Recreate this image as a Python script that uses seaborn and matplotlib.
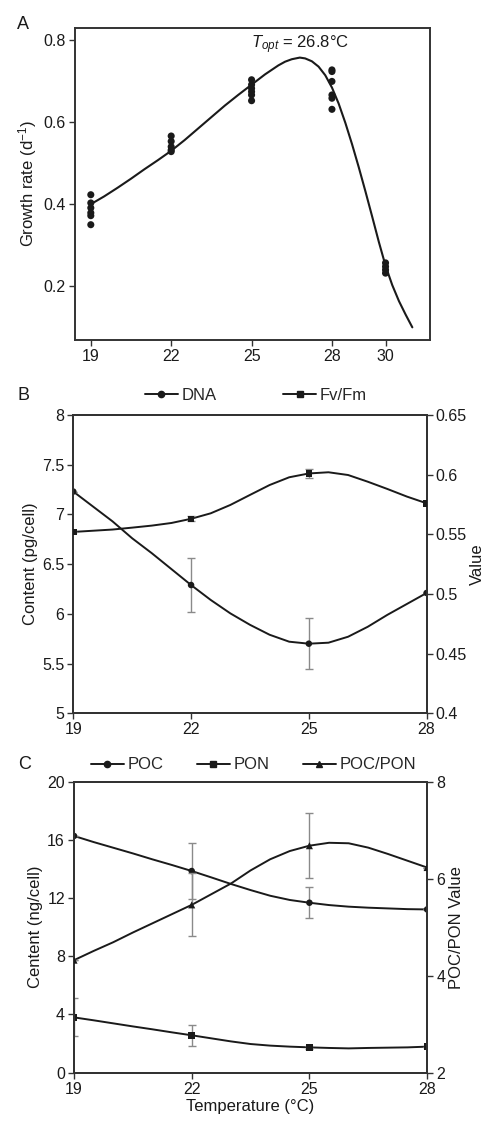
import matplotlib

matplotlib.use("Agg")

import matplotlib.pyplot as plt
import pandas as pd
import seaborn as sns
from matplotlib.lines import Line2D

# ---- panel A: growth rate vs temperature ----
growth_temp = [19] * 6 + [22] * 5 + [25] * 6 + [28] * 6 + [30] * 4
growth_rate = [0.423, 0.403, 0.391, 0.379, 0.372, 0.350,
               0.566, 0.553, 0.540, 0.532, 0.528,
               0.703, 0.691, 0.682, 0.674, 0.666, 0.652,
               0.727, 0.723, 0.699, 0.666, 0.658, 0.631,
               0.257, 0.248, 0.240, 0.232]
fit_temp = [19, 19.5, 20, 20.5, 21, 21.5, 22, 22.5, 23, 23.5, 24, 24.5, 25,
            25.5, 26, 26.25, 26.5, 26.8, 27, 27.25, 27.5, 27.75, 28, 28.25,
            28.5, 28.75, 29, 29.25, 29.5, 29.75, 30, 30.25, 30.5, 30.75, 31]
fit_rate = [0.400, 0.419, 0.440, 0.462, 0.485, 0.507, 0.530, 0.556, 0.584,
            0.612, 0.640, 0.666, 0.691, 0.716, 0.738, 0.747, 0.753, 0.757,
            0.755, 0.748, 0.735, 0.714, 0.684, 0.645, 0.598, 0.546, 0.490,
            0.431, 0.370, 0.308, 0.250, 0.203, 0.164, 0.131, 0.100]
growth_xticks = [19, 22, 25, 28, 30]

# ---- panel B: DNA content and Fv/Fm ----
temps = [19, 22, 25, 28]
dna = [7.23, 6.29, 5.70, 6.21]
dna_err = [0.0, 0.27, 0.255, 0.0]
fvfm = [0.552, 0.563, 0.601, 0.576]
fvfm_err = [0.0, 0.002, 0.004, 0.0]
curve_temp = [19, 19.5, 20, 20.5, 21, 21.5, 22, 22.5, 23, 23.5,
              24, 24.5, 25, 25.5, 26, 26.5, 27, 27.5, 28]
dna_curve = [7.23, 7.08, 6.93, 6.76, 6.61, 6.45, 6.29, 6.14, 6.005, 5.89,
             5.79, 5.72, 5.70, 5.71, 5.77, 5.87, 5.99, 6.10, 6.21]
fvfm_curve = [0.552, 0.553, 0.554, 0.5556, 0.5573, 0.5595, 0.563, 0.5676, 0.5746, 0.583,
              0.5913, 0.5978, 0.601, 0.602, 0.5997, 0.5941, 0.588, 0.5816, 0.576]

# ---- panel C: POC, PON, POC/PON ----
poc = [16.27, 13.86, 11.68, 11.22]
poc_err = [0.0, 1.95, 1.08, 0.0]
pon = [3.80, 2.57, 1.74, 1.79]
pon_err = [1.3, 0.71, 0.1, 0.0]
ratio = [4.32, 5.46, 6.68, 6.23]
ratio_err = [0.0, 0.65, 0.67, 0.0]
poc_curve = [16.27, 15.85, 15.46, 15.07, 14.66, 14.27, 13.86, 13.42, 12.97, 12.55,
             12.16, 11.87, 11.68, 11.52, 11.41, 11.34, 11.29, 11.24, 11.22]
pon_curve = [3.80, 3.60, 3.39, 3.18, 2.98, 2.77, 2.57, 2.36, 2.15, 1.97,
             1.86, 1.79, 1.74, 1.70, 1.67, 1.70, 1.72, 1.74, 1.79]
ratio_curve = [4.32, 4.51, 4.69, 4.89, 5.08, 5.27, 5.46, 5.68, 5.90, 6.17,
               6.40, 6.57, 6.68, 6.74, 6.73, 6.64, 6.51, 6.37, 6.23]

sns.set_style("ticks")
plt.rcParams["font.family"] = ["Liberation Sans", "DejaVu Sans"]
plt.rcParams["mathtext.fontset"] = "custom"
plt.rcParams["mathtext.rm"] = "Liberation Sans"
plt.rcParams["mathtext.it"] = "Liberation Sans:italic"

INK = "#1a1a1a"
SPINE = "#333333"
ERR = "#8a8a8a"
TICK_FS = 11.5
LABEL_FS = 12


def style_axis(ax):
    for s in ax.spines.values():
        s.set_visible(True)
        s.set_color(SPINE)
        s.set_linewidth(1.4)
    ax.tick_params(direction="out", length=4, width=1.0, colors=SPINE,
                   labelcolor=INK, labelsize=TICK_FS, pad=2.5)


fig = plt.figure(figsize=(4.87, 11.21), dpi=100)

# ---------------- A ----------------
axA = fig.add_axes([0.154, 0.697, 0.729, 0.278])
df_pts = pd.DataFrame({"t": growth_temp, "r": growth_rate})
df_fit = pd.DataFrame({"t": fit_temp, "r": fit_rate})
sns.lineplot(data=df_fit, x="t", y="r", color=INK, lw=1.5, ax=axA)
sns.scatterplot(data=df_pts, x="t", y="r", color=INK, s=26, edgecolor="none", ax=axA, zorder=3)
axA.set_xlim(18.41, 31.66)
axA.set_ylim(0.07, 0.829)
axA.set_xticks(growth_xticks)
axA.set_yticks([0.2, 0.4, 0.6, 0.8])
axA.set_yticklabels(["0.2", "0.4", "0.6", "0.8"])
axA.set_xlabel("")
axA.set_ylabel("Growth rate (d$^{\\mathregular{-1}}$)", fontsize=LABEL_FS, color=INK, labelpad=3)
axA.text(26.8, 0.789, "$T_{opt}$ = 26.8°C", ha="center", va="center", fontsize=12, color=INK)
style_axis(axA)
fig.text(0.035, 0.978, "A", fontsize=13, color=INK, ha="left", va="center")

# ---------------- B ----------------
axB = fig.add_axes([0.1505, 0.3637, 0.7255, 0.2661])
axB2 = axB.twinx()
sns.lineplot(x=curve_temp, y=dna_curve, color=INK, lw=1.4, ax=axB)
axB.errorbar(temps, dna, yerr=dna_err, fmt="none", ecolor=ERR, elinewidth=1, capsize=3, zorder=2)
sns.scatterplot(x=temps, y=dna, marker="o", color=INK, s=22, edgecolor="none", ax=axB, zorder=3)
sns.lineplot(x=curve_temp, y=fvfm_curve, color=INK, lw=1.4, ax=axB2)
axB2.errorbar(temps, fvfm, yerr=fvfm_err, fmt="none", ecolor=ERR, elinewidth=1, capsize=3, zorder=2)
sns.scatterplot(x=temps, y=fvfm, marker="s", color=INK, s=22, edgecolor="none", ax=axB2, zorder=3)
axB.set_xlim(19, 28)
axB.set_ylim(5, 8)
axB2.set_ylim(0.4, 0.65)
axB.set_xticks(temps)
axB.set_yticks([5, 5.5, 6, 6.5, 7, 7.5, 8])
axB.set_yticklabels(["5", "5.5", "6", "6.5", "7", "7.5", "8"])
axB2.set_yticks([0.4, 0.45, 0.5, 0.55, 0.6, 0.65])
axB2.set_yticklabels(["0.4", "0.45", "0.5", "0.55", "0.6", "0.65"])
axB.set_ylabel("Content (pg/cell)", fontsize=LABEL_FS, color=INK, labelpad=3)
axB2.set_ylabel("Value", fontsize=LABEL_FS, color=INK, labelpad=2)
style_axis(axB)
style_axis(axB2)
hB = [Line2D([], [], color=INK, lw=1.4, marker="o", ms=4.5),
      Line2D([], [], color=INK, lw=1.4, marker="s", ms=4.5)]
fig.legend(hB, ["DNA", "Fv/Fm"], loc="center", bbox_to_anchor=(0.525, 0.647), ncol=2,
           frameon=False, fontsize=LABEL_FS, handlelength=2.0, handletextpad=0.2, columnspacing=4.0)
fig.text(0.035, 0.647, "B", fontsize=13, color=INK, ha="left", va="center")

# ---------------- C ----------------
axC = fig.add_axes([0.152, 0.0431, 0.725, 0.2596])
axC2 = axC.twinx()
sns.lineplot(x=curve_temp, y=poc_curve, color=INK, lw=1.4, ax=axC)
sns.lineplot(x=curve_temp, y=pon_curve, color=INK, lw=1.4, ax=axC)
axC.errorbar(temps, poc, yerr=poc_err, fmt="none", ecolor=ERR, elinewidth=1, capsize=3, zorder=2)
axC.errorbar(temps, pon, yerr=pon_err, fmt="none", ecolor=ERR, elinewidth=1, capsize=3, zorder=2)
sns.scatterplot(x=temps, y=poc, marker="o", color=INK, s=22, edgecolor="none", ax=axC, zorder=3)
sns.scatterplot(x=temps, y=pon, marker="s", color=INK, s=22, edgecolor="none", ax=axC, zorder=3)
sns.lineplot(x=curve_temp, y=ratio_curve, color=INK, lw=1.4, ax=axC2)
axC2.errorbar(temps, ratio, yerr=ratio_err, fmt="none", ecolor=ERR, elinewidth=1, capsize=3, zorder=2)
sns.scatterplot(x=temps, y=ratio, marker="^", color=INK, s=26, edgecolor="none", ax=axC2, zorder=3)
axC.set_xlim(19, 28)
axC.set_ylim(0, 20)
axC2.set_ylim(2, 8)
axC.set_xticks(temps)
axC.set_yticks([0, 4, 8, 12, 16, 20])
axC2.set_yticks([2, 4, 6, 8])
axC.set_xlabel("Temperature (°C)", fontsize=LABEL_FS, color=INK, labelpad=2)
axC.set_ylabel("Centent (ng/cell)", fontsize=LABEL_FS, color=INK, labelpad=3)
axC2.set_ylabel("POC/PON Value", fontsize=LABEL_FS, color=INK, labelpad=3)
style_axis(axC)
style_axis(axC2)
hC = [Line2D([], [], color=INK, lw=1.4, marker="o", ms=4.5),
      Line2D([], [], color=INK, lw=1.4, marker="s", ms=4.5),
      Line2D([], [], color=INK, lw=1.4, marker="^", ms=5)]
fig.legend(hC, ["POC", "PON", "POC/PON"], loc="center", bbox_to_anchor=(0.52, 0.3176), ncol=3,
           frameon=False, fontsize=LABEL_FS, handlelength=2.0, handletextpad=0.2, columnspacing=2.0)
fig.text(0.037, 0.3176, "C", fontsize=13, color=INK, ha="left", va="center")

fig.savefig("out.png", dpi=100, facecolor="white")
plt.close(fig)
